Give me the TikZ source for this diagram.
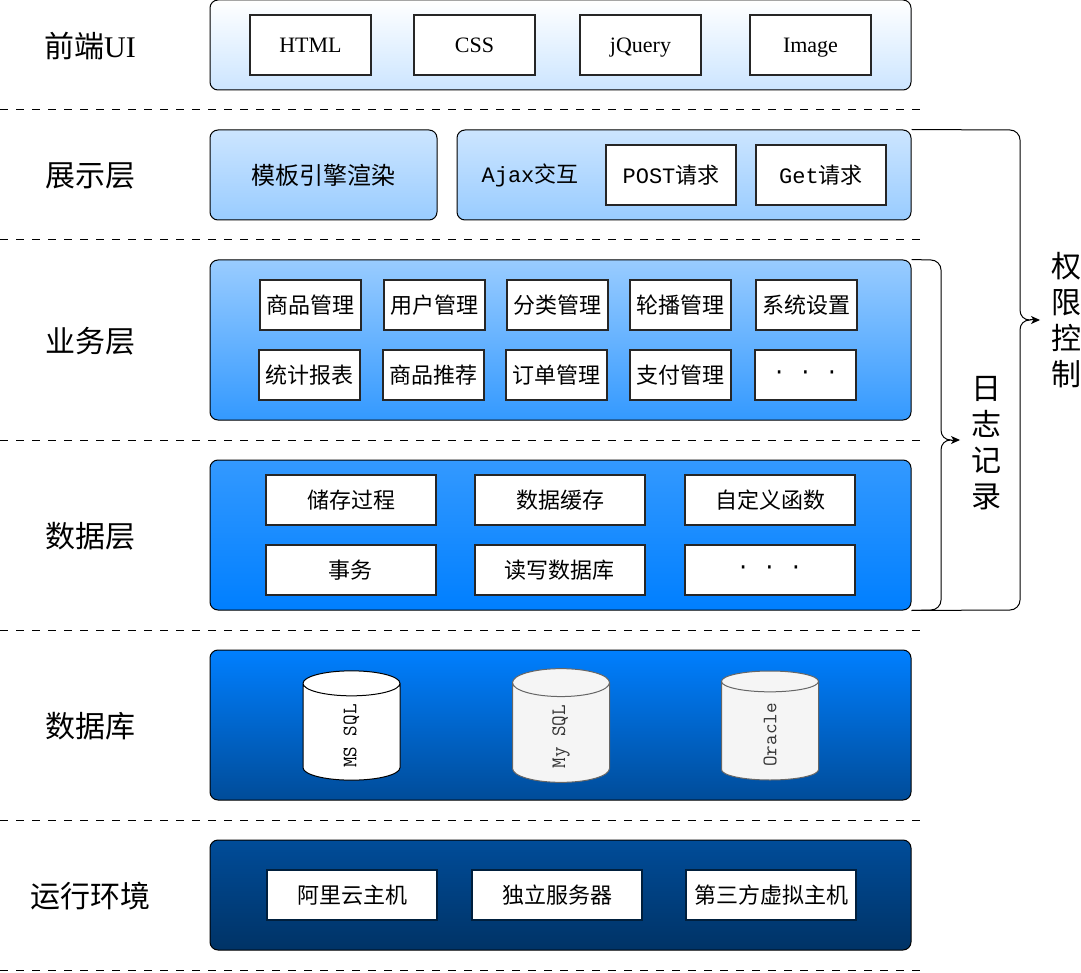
\documentclass[tikz,border=0pt]{standalone}
\usepackage{fontspec}
\setmainfont{Liberation Serif}
\setmonofont{Liberation Mono}
\newfontfamily\cjk{Noto Sans CJK SC}
\newfontfamily\dbfont{Latin Modern Mono}
\usetikzlibrary{shapes.geometric,arrows.meta}
\definecolor{c0}{HTML}{FFFFFF}
\definecolor{c1}{HTML}{CCE5FF}
\definecolor{c2}{HTML}{99CCFF}
\definecolor{c3}{HTML}{3399FF}
\definecolor{c4}{HTML}{007FFF}
\definecolor{c5}{HTML}{004C99}
\definecolor{c6}{HTML}{003366}
\tikzset{
  panel/.style 2 args={draw,rounded corners=8pt,line width=1pt,minimum width=#1,minimum height=#2,inner sep=0pt},
  wide/.style={minimum width=170pt,minimum height=50pt},
  boxn/.style={draw=black!85,line width=2pt,fill=white,minimum width=101pt,minimum height=50pt,inner sep=0pt,font=\fontsize{22}{26}\selectfont\cjk},
  boxw/.style={boxn,minimum width=121pt,minimum height=60pt,text height=15pt,text depth=0pt,font=\fontsize{22}{26}\selectfont},
  boxp/.style={boxn,minimum width=130pt,minimum height=60pt},
  dbase/.style={cylinder,draw,line width=1pt,rotate=90,minimum height=109pt,minimum width=97pt,aspect=1.6,inner sep=0pt,anchor=shape center,font=\fontsize{20.5}{24}\selectfont\dbfont},
  layer/.style={font=\fontsize{30}{36}\selectfont\cjk,inner sep=0pt},
  sidetxt/.style={font=\fontsize{30}{36}\selectfont\cjk,inner sep=0pt,align=center},
  split/.style={dash pattern=on 8pt off 8pt,line width=1pt},
  tipline/.style={-{Stealth[length=9pt,width=8pt,inset=2.5pt]},line width=1pt}
}
\begin{document}
\begin{tikzpicture}[x=1pt,y=-1pt]
  \useasboundingbox (0,0) rectangle (1081,973);
  \node[layer] (lui) at (90,46) {前端{\rmfamily UI}};
  \node[layer] (lshow) at (90,176) {展示层};
  \node[layer] (lbiz) at (90,341) {业务层};
  \node[layer] (ldata) at (90,536) {数据层};
  \node[layer] (ldb) at (90,726) {数据库};
  \node[layer] (lenv) at (90,896) {运行环境};

  \coordinate (s1a) at (0,110); \coordinate (s1b) at (920,110);
  \coordinate (s2a) at (0,240); \coordinate (s2b) at (920,240);
  \coordinate (s3a) at (0,440); \coordinate (s3b) at (920,440);
  \coordinate (s4a) at (0,630); \coordinate (s4b) at (920,630);
  \coordinate (s5a) at (0,820); \coordinate (s5b) at (920,820);
  \coordinate (s6a) at (0,970); \coordinate (s6b) at (920,970);
  \draw[split] (s1a) -- (s1b);
  \draw[split] (s2a) -- (s2b);
  \draw[split] (s3a) -- (s3b);
  \draw[split] (s4a) -- (s4b);
  \draw[split] (s5a) -- (s5b);
  \draw[split] (s6a) -- (s6b);

  \node[panel={701pt}{90pt},top color=c0,bottom color=c1] (ui) at (560.5,45) {};
  \node[panel={227pt}{90pt},top color=c1,bottom color=c2,font=\fontsize{24}{28}\selectfont\cjk] (tpl) at (323.5,175) {模板引擎渲染};
  \node[panel={454pt}{90pt},top color=c1,bottom color=c2] (ajax) at (684,175) {};
  \node[panel={701pt}{160pt},top color=c2,bottom color=c3] (biz) at (560.5,340) {};
  \node[panel={701pt}{150pt},top color=c3,bottom color=c4] (data) at (560.5,535) {};
  \node[panel={701pt}{150pt},top color=c4,bottom color=c5] (db) at (560.5,725) {};
  \node[panel={701pt}{110pt},top color=c5,bottom color=c6] (env) at (560.5,895) {};

  \node[boxw] (html) at (310.5,45) {HTML};
  \node[boxw] (css) at (474.5,45) {CSS};
  \node[boxw] (jq) at (640.5,45) {jQuery};
  \node[boxw] (img) at (810.5,45) {Image};

  \node[font=\fontsize{22}{26}\selectfont,inner sep=0pt] (ajx) at (530,175) {{\ttfamily Ajax}{\cjk 交互}};
  \node[boxp] (post) at (671,175) {{\ttfamily POST}请求};
  \node[boxp] (get) at (821,175) {{\ttfamily Get}请求};

  \node[boxn] (b1) at (310.5,305) {商品管理};
  \node[boxn] (b2) at (434.5,305) {用户管理};
  \node[boxn] (b3) at (557.5,305) {分类管理};
  \node[boxn] (b4) at (680.5,305) {轮播管理};
  \node[boxn] (b5) at (806.5,305) {系统设置};
  \node[boxn] (b6) at (309.5,375) {统计报表};
  \node[boxn] (b7) at (433.5,375) {商品推荐};
  \node[boxn] (b8) at (556.5,375) {订单管理};
  \node[boxn] (b9) at (680.5,375) {支付管理};
  \node[boxn] (b10) at (805.5,375) {\ttfamily · · ·};

  \node[boxn,wide] (d1) at (351,500) {储存过程};
  \node[boxn,wide] (d2) at (560,500) {数据缓存};
  \node[boxn,wide] (d3) at (770,500) {自定义函数};
  \node[boxn,wide] (d4) at (350.5,570) {事务};
  \node[boxn,wide] (d5) at (559.5,570) {读写数据库};
  \node[boxn,wide] (d6) at (769.5,570) {\ttfamily · · ·};

  \node[dbase,fill=white] (ms) at (351.5,725.5) {MS SQL\kern8pt};
  \node[dbase,fill=black!4,draw=black!60,text=black!80] (my) at (561,725.5) {My SQL\kern8pt};
  \node[dbase,fill=black!4,draw=black!60,text=black!80] (ora) at (770,725.5) {Oracle\kern8pt};

  \node[boxn,wide,draw=c6!60!black] (e1) at (352,895) {阿里云主机};
  \node[boxn,wide,draw=c6!60!black] (e2) at (557,895) {独立服务器};
  \node[boxn,wide,draw=c6!60!black] (e3) at (771,895) {第三方虚拟主机};

  \node[sidetxt] (logs) at (986,443) {日\\志\\记\\录};
  \node[sidetxt] (auth) at (1066,320) {权\\限\\控\\制};

  \coordinate (ltip) at (951,440);
  \coordinate (lend) at (960,440);
  \coordinate (atip) at (1030,320);
  \coordinate (aend) at (1040,320);
  \draw[line width=1pt] (biz.north east) -- (931,260) arc (-90:0:10) -- (941,430)
    .. controls (941,436) and (945,440) .. (ltip)
    .. controls (945,440) and (941,444) .. (941,450) -- (941,600) arc (0:90:10) -- (data.south east);
  \draw[line width=1pt] (ajax.north east) -- (1010,130) arc (-90:0:10) -- (1020,310)
    .. controls (1020,316) and (1024,320) .. (atip)
    .. controls (1024,320) and (1020,324) .. (1020,330) -- (1020,600) arc (0:90:10) -- (data.south east);
  \draw[tipline] (ltip) -- (lend);
  \draw[tipline] (atip) -- (aend);
\end{tikzpicture}
\end{document}
